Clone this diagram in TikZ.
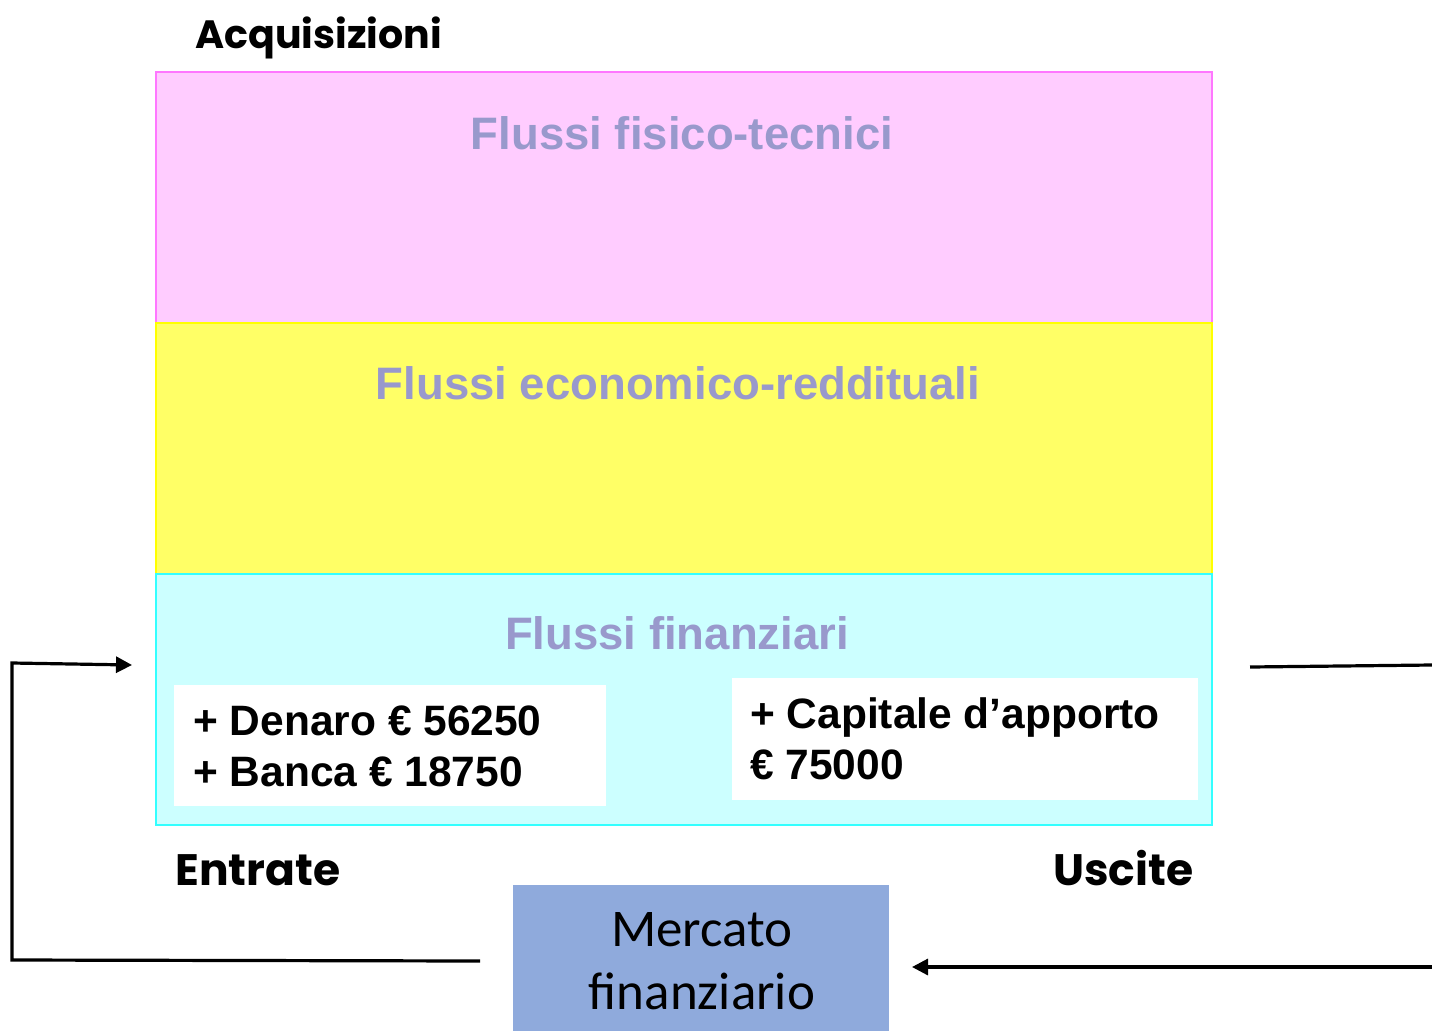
\documentclass[tikz,border=0pt]{standalone}
\usepackage{fontspec}
\setmainfont{Liberation Sans}
\newfontfamily\comicf{Poppins}
\newfontfamily\calib{Carlito}
\usetikzlibrary{arrows.meta}
\definecolor{pinkf}{HTML}{FFCCFF}
\definecolor{pinkd}{HTML}{FF77FF}
\definecolor{yelf}{HTML}{FFFF66}
\definecolor{yeld}{HTML}{FFFF00}
\definecolor{cyaf}{HTML}{CCFFFF}
\definecolor{cyad}{HTML}{33FFFF}
\definecolor{titc}{HTML}{9999CC}
\definecolor{merc}{HTML}{8FAADC}
\tikzset{
  band/.style={draw, line width=1.5pt, anchor=north west, minimum width=1056pt, minimum height=251pt, inner sep=0pt},
  bandtitle/.style={text=titc, font=\bfseries\fontsize{45.5}{54}\selectfont, anchor=base},
  whitebox/.style={fill=white, anchor=north west, inner sep=0pt},
  boxtext/.style={font=\bfseries\fontsize{42.5}{50}\selectfont, anchor=base west, align=left, inner sep=0pt},
  comic/.style={font=\comicf\bfseries\fontsize{#1}{48}\selectfont, anchor=base west, inner sep=0pt},
  flow/.style={line width=3.2pt},
  flowarrow/.style={line width=3.2pt, -{Triangle[length=16pt, width=16pt]}}
}
\begin{document}
\begin{tikzpicture}[x=1pt, y=-1pt]
\useasboundingbox (0,0) rectangle (1432,1031);
% bands
\node[band, fill=pinkf, draw=pinkd] (fis) at (155,71) {};
\node[band, fill=yelf, draw=yeld] (eco) at (155,322) {};
\node[band, fill=cyaf, draw=cyad] (fin) at (155,573) {};
\node[bandtitle] (tfis) at (682,149) {Flussi fisico-tecnici};
\node[bandtitle] (teco) at (678,399) {Flussi economico-reddituali};
\node[bandtitle] (tfin) at (677,649) {Flussi finanziari};
% white boxes
\node[whitebox, minimum width=432pt, minimum height=121pt] (wl) at (174,685) {};
\node[whitebox, minimum width=466pt, minimum height=122pt] (wr) at (732,678) {};
\node[boxtext] (den) at (193,735) {+ Denaro € 56250};
\node[boxtext] (ban) at (193,786) {+ Banca € 18750};
\node[boxtext] (cap) at (750,728) {+ Capitale d’apporto};
\node[boxtext] (eur) at (750,779) {€ 75000};
% labels
\node[comic=39.5] (acq) at (195,48) {Acquisizioni};
\node[comic=44] (ent) at (175,885) {Entrate};
\node[comic=44] (usc) at (1053,885) {Uscite};
% mercato
\node[fill=merc, anchor=north west, minimum width=376pt, minimum height=146pt, inner sep=0pt] (mer) at (513,885) {};
\node[font=\calib\fontsize{53}{63}\selectfont, align=center, anchor=center] (mert) at (702,961) {Mercato\\finanziario};
% connectors
\coordinate (l1) at (480,961);
\coordinate (l2) at (12,960);
\coordinate (l3) at (12,663);
\coordinate (l4) at (132,665);
\draw[flowarrow] (l1) -- (l2) -- (l3) -- (l4);
\coordinate (r1) at (1250,667);
\coordinate (r2) at (1432,665);
\draw[flow] (r1) -- (r2);
\coordinate (b1) at (1432,967);
\coordinate (b2) at (912,967);
\draw[flowarrow] (b1) -- (b2);
\end{tikzpicture}
\end{document}
